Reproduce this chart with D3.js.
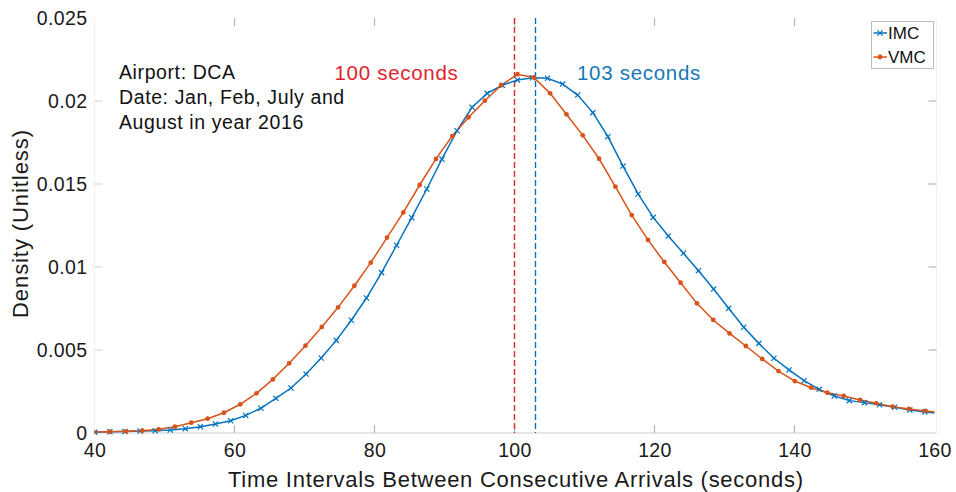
<!DOCTYPE html>
<html>
<head>
<meta charset="utf-8">
<script src="https://cdn.jsdelivr.net/npm/d3@7"></script>
<style>
  html, body { margin: 0; padding: 0; background: #fff; }
  svg { display: block; font-family: "Liberation Sans", Arial, Helvetica, sans-serif; }
</style>
</head>
<body>
<svg id="chart" width="956" height="492"></svg>
<script>
// Kernel density estimates of inter-arrival times (DCA, 2016)
const imcX = [40.04, 42.20, 44.35, 46.51, 48.67, 50.82, 52.98, 55.13, 57.29, 59.45,
  61.60, 63.76, 65.91, 68.07, 70.23, 72.38, 74.54, 76.69, 78.85, 81.01,
  83.16, 85.32, 87.47, 89.63, 91.79, 93.94, 96.10, 98.25, 100.41, 102.57,
  104.72, 106.88, 109.03, 111.19, 113.35, 115.50, 117.66, 119.81, 121.97, 124.13,
  126.28, 128.44, 130.59, 132.75, 134.91, 137.06, 139.22, 141.37, 143.53, 145.69,
  147.84, 150.00, 152.15, 154.31, 156.47, 158.62, 160.78];
const imcY = [0.00005, 0.00007, 0.00009, 0.00012, 0.00013, 0.00018, 0.00026, 0.00038, 0.00054, 0.00074,
  0.00106, 0.00149, 0.00209, 0.00271, 0.00355, 0.00452, 0.00558, 0.00679, 0.00813, 0.00966,
  0.01131, 0.01297, 0.01470, 0.01650, 0.01821, 0.01962, 0.02046, 0.02095, 0.02127, 0.02140,
  0.02137, 0.02102, 0.02036, 0.01930, 0.01785, 0.01608, 0.01440, 0.01299, 0.01187, 0.01083,
  0.00978, 0.00867, 0.00751, 0.00637, 0.00540, 0.00450, 0.00380, 0.00315, 0.00263, 0.00223,
  0.00195, 0.00183, 0.00170, 0.00155, 0.00139, 0.00127, 0.00118];

const vmcX = [39.85, 42.18, 44.51, 46.84, 49.17, 51.50, 53.83, 56.16, 58.49, 60.82,
  63.15, 65.48, 67.81, 70.14, 72.47, 74.80, 77.13, 79.46, 81.79, 84.12,
  86.45, 88.78, 91.11, 93.44, 95.77, 98.10, 100.43, 102.76, 105.09, 107.42,
  109.75, 112.08, 114.41, 116.74, 119.07, 121.40, 123.73, 126.06, 128.39, 130.72,
  133.05, 135.38, 137.71, 140.04, 142.37, 144.70, 147.03, 149.36, 151.69, 154.02,
  156.35, 158.68, 161.01];
const vmcY = [0.00006, 0.00008, 0.00010, 0.00014, 0.00022, 0.00038, 0.00062, 0.00086, 0.00122, 0.00173,
  0.00239, 0.00323, 0.00420, 0.00526, 0.00639, 0.00757, 0.00887, 0.01026, 0.01177, 0.01329,
  0.01494, 0.01651, 0.01789, 0.01902, 0.02002, 0.02095, 0.02161, 0.02142, 0.02046, 0.01920,
  0.01793, 0.01652, 0.01484, 0.01313, 0.01163, 0.01030, 0.00905, 0.00781, 0.00681, 0.00600,
  0.00524, 0.00446, 0.00373, 0.00313, 0.00273, 0.00243, 0.00223, 0.00199, 0.00179, 0.00158,
  0.00145, 0.00133, 0.00122];

const seriesNames = ["IMC", "VMC"];
const modeValues = [103, 100];          // IMC mode, VMC mode (seconds)
const modeLabels = ["103 seconds", "100 seconds"];
const xTicks = [40, 60, 80, 100, 120, 140, 160];
const yTicks = [0, 0.005, 0.01, 0.015, 0.02, 0.025];
const yTickLabels = ["0", "0.005", "0.01", "0.015", "0.02", "0.025"];
const infoLines = ["Airport: DCA", "Date: Jan, Feb, July and", "August in year 2016"];

const blue = "#0072BD", orange = "#D95319", red = "#E0242B", labelBlue = "#1878B8";
const ink = "#1a1a1a";

const svg = d3.select("#chart");
const plot = { left: 94.5, right: 934.5, top: 18, bottom: 433 };

const x = d3.scaleLinear().domain([40, 160]).range([plot.left, plot.right]);
const y = d3.scaleLinear().domain([0, 0.025]).range([plot.bottom, plot.top]);

svg.append("defs").append("clipPath").attr("id", "clip")
  .append("rect").attr("x", plot.left).attr("y", plot.top - 5)
  .attr("width", plot.right - plot.left).attr("height", plot.bottom - plot.top + 10);

// Faint axes frame
const frame = svg.append("g");
frame.append("line").attr("x1", plot.left).attr("x2", plot.right + 2)
  .attr("y1", plot.bottom).attr("y2", plot.bottom)
  .attr("stroke", "#dedede").attr("stroke-width", 1.5);
frame.append("line").attr("x1", plot.left).attr("x2", plot.left)
  .attr("y1", plot.top).attr("y2", plot.bottom)
  .attr("stroke", "#f0f0f0").attr("stroke-width", 1);
frame.append("line").attr("x1", plot.right + 2).attr("x2", plot.right + 2)
  .attr("y1", plot.top).attr("y2", plot.bottom)
  .attr("stroke", "#f2f2f2").attr("stroke-width", 1);

// Axes: tick labels from d3 axes, tick marks drawn inward
const tickLen = 8;
const xAxis = d3.axisBottom(x).tickValues(xTicks).tickSize(0).tickPadding(10).tickFormat(d3.format("d"));
const gx = svg.append("g").attr("transform", `translate(0,${plot.bottom})`).call(xAxis);
gx.select(".domain").remove();
gx.selectAll("text").attr("font-size", 19.5).attr("letter-spacing", 0.4).attr("fill", ink)
  .attr("font-family", "'Liberation Sans', Arial, sans-serif");

const yAxis = d3.axisLeft(y).tickValues(yTicks).tickSize(0).tickPadding(7)
  .tickFormat((d, i) => yTickLabels[i]);
const gy = svg.append("g").attr("transform", `translate(${plot.left},0)`).call(yAxis);
gy.select(".domain").remove();
gy.selectAll("text").attr("font-size", 19.5).attr("letter-spacing", 0.4).attr("fill", ink)
  .attr("font-family", "'Liberation Sans', Arial, sans-serif");

const ticks = svg.append("g").attr("stroke", "#b4b4b4").attr("stroke-width", 1.2);
xTicks.slice(1, -1).forEach(t => {
  ticks.append("line").attr("x1", x(t)).attr("x2", x(t))
    .attr("y1", plot.bottom).attr("y2", plot.bottom - tickLen);
  ticks.append("line").attr("x1", x(t)).attr("x2", x(t))
    .attr("y1", plot.top).attr("y2", plot.top + tickLen);
});
yTicks.slice(1, -1).forEach(t => {
  ticks.append("line").attr("x1", plot.left).attr("x2", plot.left + tickLen)
    .attr("y1", y(t)).attr("y2", y(t)).attr("stroke", "#d8d8d8");
  ticks.append("line").attr("x1", plot.right + 2).attr("x2", plot.right + 2 - tickLen)
    .attr("y1", y(t)).attr("y2", y(t));
});

// Axis titles
svg.append("text").attr("x", 515.5).attr("y", 487)
  .attr("text-anchor", "middle").attr("font-size", 22).attr("fill", ink)
  .attr("textLength", 575).attr("lengthAdjust", "spacing")
  .text("Time Intervals Between Consecutive Arrivals (seconds)");
svg.append("text").attr("transform", `translate(28,224) rotate(-90)`)
  .attr("text-anchor", "middle").attr("font-size", 22).attr("fill", ink)
  .attr("textLength", 188).attr("lengthAdjust", "spacing")
  .text("Density (Unitless)");

// Mode markers (dashed verticals)
const modeColors = [blue, red];
modeValues.forEach((m, i) => {
  svg.append("line").attr("x1", x(m)).attr("x2", x(m))
    .attr("y1", plot.top).attr("y2", plot.bottom)
    .attr("stroke", modeColors[i]).attr("stroke-width", 1.4)
    .attr("stroke-dasharray", "6,3");
});

// Curves
const plotArea = svg.append("g").attr("clip-path", "url(#clip)");
const line = d3.line().x(d => x(d[0])).y(d => y(d[1]));
const imc = imcX.map((v, i) => [v, imcY[i]]);
const vmc = vmcX.map((v, i) => [v, vmcY[i]]);

plotArea.append("path").datum(imc).attr("d", line)
  .attr("fill", "none").attr("stroke", blue).attr("stroke-width", 1.5);
plotArea.append("path").datum(vmc).attr("d", line)
  .attr("fill", "none").attr("stroke", orange).attr("stroke-width", 1.5);

function crossMarker(g, cx, cy, s, color) {
  g.append("path")
    .attr("d", `M${cx - s},${cy - s}L${cx + s},${cy + s}M${cx - s},${cy + s}L${cx + s},${cy - s}`)
    .attr("stroke", color).attr("stroke-width", 1.2).attr("fill", "none");
}
imc.forEach(d => crossMarker(plotArea, x(d[0]), y(d[1]), 2.6, blue));
plotArea.selectAll("circle.vmc").data(vmc).join("circle").attr("class", "vmc")
  .attr("cx", d => x(d[0])).attr("cy", d => y(d[1])).attr("r", 2.4)
  .attr("fill", orange);

// Annotations
const info = svg.append("text").attr("font-size", 19.5).attr("letter-spacing", 0.6).attr("fill", "#111");
infoLines.forEach((t, i) => {
  info.append("tspan").attr("x", 119).attr("y", 78.5 + i * 25).text(t);
});
svg.append("text").attr("x", 396.5).attr("y", 80).attr("text-anchor", "middle")
  .attr("font-size", 20.5).attr("letter-spacing", 0.7).attr("fill", red).text(modeLabels[1]);
svg.append("text").attr("x", 639).attr("y", 80).attr("text-anchor", "middle")
  .attr("font-size", 20.5).attr("letter-spacing", 0.7).attr("fill", labelBlue).text(modeLabels[0]);

// Legend
const lg = svg.append("g");
lg.append("rect").attr("x", 871.5).attr("y", 21.5).attr("width", 62).attr("height", 47)
  .attr("fill", "#fff").attr("stroke", "#bdbdbd").attr("stroke-width", 1);
const legendColors = [blue, orange];
seriesNames.forEach((name, i) => {
  const ly = 33 + i * 24;
  lg.append("line").attr("x1", 873.5).attr("x2", 887).attr("y1", ly).attr("y2", ly)
    .attr("stroke", legendColors[i]).attr("stroke-width", 1.5);
  if (i === 0) crossMarker(lg, 880, ly, 2.6, blue);
  else lg.append("circle").attr("cx", 880).attr("cy", ly).attr("r", 2.4).attr("fill", orange);
  lg.append("text").attr("x", 888).attr("y", ly + 6).attr("font-size", 17)
    .attr("fill", "#111").text(name);
});
</script>
</body>
</html>
